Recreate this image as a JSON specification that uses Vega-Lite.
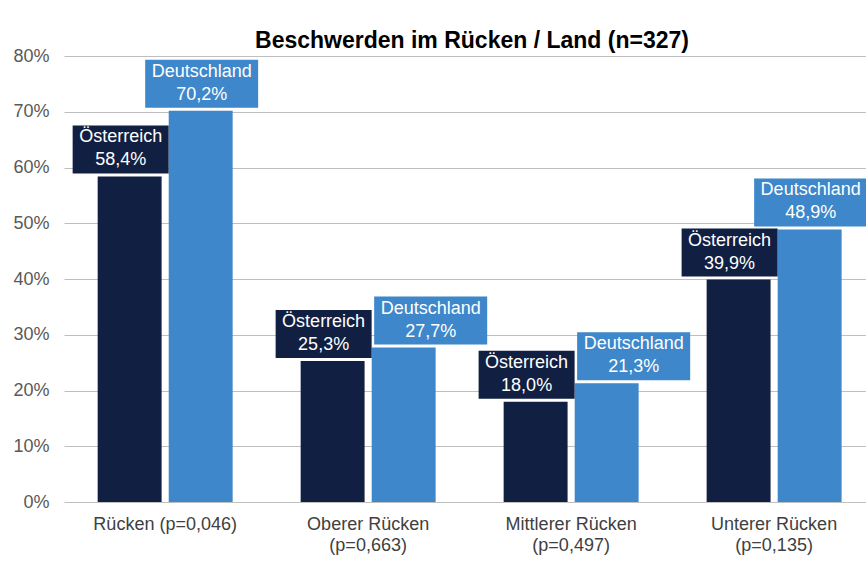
{
  "$schema": "https://vega.github.io/schema/vega-lite/v6.json",
  "width": 802,
  "height": 446,
  "autosize": {"type": "none"},
  "padding": {"left": 64, "top": 56, "right": 0, "bottom": 60},
  "background": "#ffffff",
  "title": {
    "text": "Beschwerden im Rücken / Land (n=327)",
    "font": "Liberation Sans",
    "fontSize": 23,
    "fontWeight": "bold",
    "color": "#000000",
    "anchor": "middle",
    "offset": -6,
    "dx": 7
  },
  "config": {
    "font": "Liberation Sans",
    "view": {"stroke": null},
    "locale": {
      "number": {"decimal": ",", "thousands": ".", "grouping": [3], "currency": ["", " €"]}
    }
  },
  "data": {
    "values": [
      {"category": "Rücken (p=0,046)", "country": "Österreich", "value": 0.584},
      {"category": "Rücken (p=0,046)", "country": "Deutschland", "value": 0.702},
      {"category": "Oberer Rücken|(p=0,663)", "country": "Österreich", "value": 0.253},
      {"category": "Oberer Rücken|(p=0,663)", "country": "Deutschland", "value": 0.277},
      {"category": "Mittlerer Rücken|(p=0,497)", "country": "Österreich", "value": 0.180},
      {"category": "Mittlerer Rücken|(p=0,497)", "country": "Deutschland", "value": 0.213},
      {"category": "Unterer Rücken|(p=0,135)", "country": "Österreich", "value": 0.399},
      {"category": "Unterer Rücken|(p=0,135)", "country": "Deutschland", "value": 0.489}
    ]
  },
  "encoding": {
    "x": {
      "field": "category",
      "type": "nominal",
      "sort": null,
      "scale": {"paddingInner": 0.335, "paddingOuter": 0.143, "align": 0.58},
      "axis": {
        "title": null,
        "labelAngle": 0,
        "labelExpr": "split(datum.label, '|')",
        "labelFont": "Liberation Sans",
        "labelFontSize": 18,
        "labelColor": "#404040",
        "labelLineHeight": 21,
        "labelPadding": 13,
        "ticks": false,
        "domain": false
      }
    },
    "xOffset": {
      "field": "country",
      "type": "nominal",
      "sort": ["Österreich", "Deutschland"],
      "scale": {"paddingInner": 0.1, "paddingOuter": 0}
    },
    "y": {
      "field": "value",
      "type": "quantitative",
      "scale": {"domain": [0, 0.8], "nice": false},
      "axis": {
        "title": null,
        "values": [0, 0.1, 0.2, 0.3, 0.4, 0.5, 0.6, 0.7, 0.8],
        "format": ".0%",
        "grid": true,
        "gridColor": "#bfbfbf",
        "gridWidth": 1,
        "ticks": false,
        "domain": false,
        "labelFont": "Liberation Sans",
        "labelFontSize": 18,
        "labelColor": "#595959",
        "labelPadding": 15
      }
    }
  },
  "layer": [
    {
      "mark": {"type": "bar"},
      "encoding": {
        "color": {
          "field": "country",
          "type": "nominal",
          "scale": {"domain": ["Österreich", "Deutschland"], "range": ["#112042", "#3d87ca"]},
          "legend": null
        }
      }
    },
    {
      "mark": {"type": "point", "filled": true, "opacity": 1, "size": 14400, "strokeWidth": 0},
      "encoding": {
        "color": {
          "field": "country",
          "type": "nominal",
          "scale": {"domain": ["Österreich", "Deutschland"], "range": ["#112042", "#3d87ca"]},
          "legend": null
        },
        "shape": {
          "condition": [
            {"test": "datum.country == 'Österreich'", "value": "M-0.95,-0.85L0.65,-0.85L0.65,-0.05L-0.95,-0.05Z"},
            {"test": "datum.value < 0.3", "value": "M-0.492,-0.85L1.392,-0.85L1.392,-0.05L-0.492,-0.05Z"}
          ],
          "value": "M-0.925,-0.85L0.958,-0.85L0.958,-0.05L-0.925,-0.05Z"
        }
      }
    },
    {
      "mark": {
        "type": "text",
        "color": "#ffffff",
        "font": "Liberation Sans",
        "fontSize": 18,
        "baseline": "middle",
        "align": "center",
        "dy": -39,
        "dx": {"expr": "datum.country == 'Österreich' ? -9 : (datum.value < 0.3 ? 27 : 1)"}
      },
      "encoding": {"text": {"field": "country", "type": "nominal"}}
    },
    {
      "mark": {
        "type": "text",
        "color": "#ffffff",
        "font": "Liberation Sans",
        "fontSize": 18,
        "baseline": "middle",
        "align": "center",
        "dy": -16,
        "dx": {"expr": "datum.country == 'Österreich' ? -9 : (datum.value < 0.3 ? 27 : 1)"}
      },
      "encoding": {"text": {"field": "value", "type": "quantitative", "format": ".1%"}}
    }
  ]
}
